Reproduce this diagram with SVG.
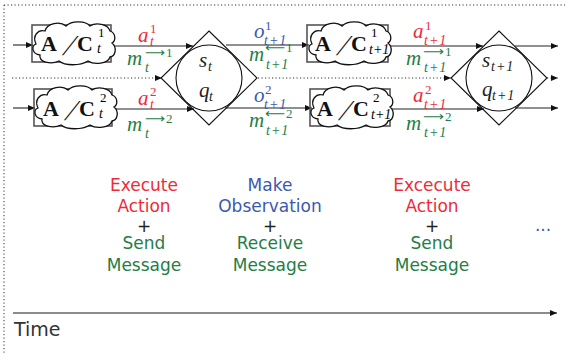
<svg xmlns="http://www.w3.org/2000/svg" width="565" height="354" viewBox="0 0 565 354">
<style>
.ln{stroke:#222;stroke-width:1.1;fill:none}
.dot{stroke:#333;stroke-width:1;stroke-dasharray:1.2,2.3;fill:none}
.rect{fill:none;stroke:#555;stroke-width:1.6}
.cloud{fill:#fff;stroke:#111;stroke-width:1.3}
.sh{fill:none;stroke:#111;stroke-width:1.1}
.mi{font-family:"Liberation Serif",serif;font-style:italic;font-size:21px}
.mr{font-family:"Liberation Serif",serif;font-size:13px}
.ms{font-family:"Liberation Serif",serif;font-style:italic;font-size:14px}
.tp{letter-spacing:1px}
.ar{font-family:"DejaVu Sans",sans-serif;font-size:13px}
.bold{font-family:"Liberation Serif",serif;font-weight:bold;font-size:22px;fill:#111}
.sl{font-family:"Liberation Serif",serif;font-size:29px;fill:#111}
.bt{font-family:"DejaVu Sans",sans-serif;font-size:17px;text-anchor:middle}
.red{fill:#ef2b37}
.blue{fill:#3b59ad}
.green{fill:#1f7d45}
.dark{fill:#222}
</style>
<defs>
<marker id="ah" markerWidth="8" markerHeight="6" refX="7" refY="3" orient="auto" markerUnits="userSpaceOnUse">
<path d="M0,0 L7,3 L0,6 Z" fill="#111"/>
</marker>
<path id="cl" d="M3,20 C-1,12 5,5 12,7 C14,-1 27,-3 33,2 C39,-4 53,-3 57,2 C63,-2 75,0 77,7 C83,9 83,17 79,19 C84,23 83,32 77,33 C75,40 61,41 55,37 C47,42 32,42 26,37 C18,41 5,38 7,31 C-1,30 -2,22 3,20 Z"/>
</defs>

<!-- frame -->
<g id="frame">
<line class="dot" x1="4" y1="5" x2="565" y2="5"/>
<line class="dot" x1="4" y1="5" x2="4" y2="354"/>
</g>

<!-- connectors -->
<g id="connectors">
<line class="ln" x1="13" y1="45" x2="33" y2="45" marker-end="url(#ah)"/>
<line class="ln" x1="13" y1="108" x2="35" y2="108" marker-end="url(#ah)"/>
<line class="ln" x1="113" y1="46" x2="193" y2="46" marker-end="url(#ah)"/>
<line class="ln" x1="114" y1="109" x2="194" y2="109" marker-end="url(#ah)"/>
<line class="ln" x1="226" y1="45" x2="309" y2="45" marker-end="url(#ah)"/>
<line class="ln" x1="225" y1="108" x2="312" y2="108" marker-end="url(#ah)"/>
<line class="ln" x1="390" y1="46" x2="483" y2="46" marker-end="url(#ah)"/>
<line class="ln" x1="392" y1="109" x2="484" y2="109" marker-end="url(#ah)"/>
<line class="ln" x1="515" y1="46" x2="558" y2="46" marker-end="url(#ah)"/>
<line class="ln" x1="515" y1="108" x2="558" y2="108" marker-end="url(#ah)"/>
<line class="dot" x1="12" y1="78" x2="162" y2="78" marker-end="url(#ah)"/>
<line class="dot" x1="258" y1="78" x2="451" y2="78" marker-end="url(#ah)"/>
<line class="dot" x1="547" y1="78" x2="558" y2="78" marker-end="url(#ah)"/>
<line x1="13" y1="313" x2="557" y2="313" stroke="#666" stroke-width="1.5" marker-end="url(#ah)"/>
</g>

<!-- A/C boxes -->
<g id="ac1t">
<rect class="rect" x="32" y="25" width="79" height="37"/>
<use href="#cl" class="cloud" transform="translate(33,24)"/>
<text class="bold" x="41" y="51">A</text>
<text class="sl" transform="translate(62,55) skewX(-24)" x="0" y="0">/</text>
<text class="bold" x="77" y="51">C</text>
<text class="mr" x="98" y="37">1</text>
<text class="ms" x="97" y="53">t</text>
</g>
<g id="ac2t">
<rect class="rect" x="34" y="89" width="78" height="37"/>
<use href="#cl" class="cloud" transform="translate(35,88)"/>
<text class="bold" x="43" y="116">A</text>
<text class="sl" transform="translate(64,120) skewX(-24)" x="0" y="0">/</text>
<text class="bold" x="79" y="116">C</text>
<text class="mr" x="100" y="102">2</text>
<text class="ms" x="99" y="118">t</text>
</g>
<g id="ac1t1">
<rect class="rect" x="307" y="25" width="81" height="37"/>
<use href="#cl" class="cloud" transform="translate(309,24)"/>
<text class="bold" x="315" y="51">A</text>
<text class="sl" transform="translate(336,55) skewX(-24)" x="0" y="0">/</text>
<text class="bold" x="351" y="51">C</text>
<text class="mr" x="371" y="37">1</text>
<text class="ms" x="369" y="54">t+1</text>
</g>
<g id="ac2t1">
<rect class="rect" x="310" y="89" width="80" height="37"/>
<use href="#cl" class="cloud" transform="translate(311,88)"/>
<text class="bold" x="317" y="116">A</text>
<text class="sl" transform="translate(338,120) skewX(-24)" x="0" y="0">/</text>
<text class="bold" x="353" y="116">C</text>
<text class="mr" x="373" y="102">2</text>
<text class="ms" x="371" y="119">t+1</text>
</g>

<!-- state nodes -->
<g id="state_t">
<polygon class="sh" points="209,31 257,78 209,125 161,78"/>
<circle class="sh" cx="209" cy="78" r="33"/>
<text class="mi dark" x="199" y="67">s</text>
<text class="ms dark" x="208" y="71">t</text>
<text class="mi dark" x="199" y="97">q</text>
<text class="ms dark" x="209" y="101">t</text>
</g>
<g id="state_t1">
<polygon class="sh" points="499,31 547,78 499,125 451,78"/>
<circle class="sh" cx="499" cy="78" r="33"/>
<text class="mi dark" x="482" y="67">s</text>
<text class="ms dark tp" x="491" y="71">t+1</text>
<text class="mi dark" x="482" y="96">q</text>
<text class="ms dark tp" x="492" y="100">t+1</text>
</g>

<!-- edge labels -->
<g id="labels">
<text class="mi red" x="138" y="42">a</text>
<text class="mr red" x="150" y="33">1</text>
<text class="ms red" x="150" y="46">t</text>
<text class="mi green" x="127" y="65">m</text>
<text class="ms green" x="145" y="72">t</text>
<text class="ar green" x="145" y="57" textLength="20" lengthAdjust="spacingAndGlyphs">⟶</text>
<text class="mr green" x="166" y="57">1</text>

<text class="mi red" x="138" y="105">a</text>
<text class="mr red" x="150" y="96">2</text>
<text class="ms red" x="150" y="109">t</text>
<text class="mi green" x="127" y="131">m</text>
<text class="ms green" x="145" y="138">t</text>
<text class="ar green" x="145" y="123" textLength="20" lengthAdjust="spacingAndGlyphs">⟶</text>
<text class="mr green" x="166" y="123">2</text>

<text class="mi blue" x="254" y="38">o</text>
<text class="mr blue" x="265" y="30">1</text>
<text class="ms blue tp" x="264" y="45">t+1</text>
<text class="mi green" x="249" y="61">m</text>
<text class="ar green" x="265" y="52" textLength="20" lengthAdjust="spacingAndGlyphs">⟵</text>
<text class="mr green" x="286" y="52">1</text>
<text class="ms green tp" x="266" y="69">t+1</text>

<text class="mi blue" x="254" y="102">o</text>
<text class="mr blue" x="265" y="94">2</text>
<text class="ms blue tp" x="264" y="109">t+1</text>
<text class="mi green" x="249" y="127">m</text>
<text class="ar green" x="265" y="118" textLength="20" lengthAdjust="spacingAndGlyphs">⟵</text>
<text class="mr green" x="286" y="118">2</text>
<text class="ms green tp" x="266" y="135">t+1</text>

<text class="mi red" x="413" y="38">a</text>
<text class="mr red" x="425" y="30">1</text>
<text class="ms red tp" x="424" y="45">t+1</text>
<text class="mi green" x="406" y="65">m</text>
<text class="ar green" x="423" y="56" textLength="21" lengthAdjust="spacingAndGlyphs">⟶</text>
<text class="mr green" x="445" y="56">1</text>
<text class="ms green tp" x="424" y="72">t+1</text>

<text class="mi red" x="413" y="102">a</text>
<text class="mr red" x="425" y="94">2</text>
<text class="ms red tp" x="424" y="109">t+1</text>
<text class="mi green" x="406" y="130">m</text>
<text class="ar green" x="423" y="121" textLength="21" lengthAdjust="spacingAndGlyphs">⟶</text>
<text class="mr green" x="445" y="121">2</text>
<text class="ms green tp" x="424" y="137">t+1</text>
</g>

<!-- phase captions -->
<g id="captions">
<text class="bt red" x="144" y="191">Execute</text>
<text class="bt red" x="144" y="212">Action</text>
<text class="bt dark" x="144" y="232">+</text>
<text class="bt green" x="144" y="249">Send</text>
<text class="bt green" x="144" y="271">Message</text>

<text class="bt blue" x="270" y="191">Make</text>
<text class="bt blue" x="270" y="212">Observation</text>
<text class="bt dark" x="270" y="232">+</text>
<text class="bt green" x="270" y="249">Receive</text>
<text class="bt green" x="270" y="271">Message</text>

<text class="bt red" x="432" y="191">Excecute</text>
<text class="bt red" x="432" y="212">Action</text>
<text class="bt dark" x="432" y="232">+</text>
<text class="bt green" x="432" y="249">Send</text>
<text class="bt green" x="432" y="271">Message</text>

<text class="bt blue" x="543" y="231">...</text>
<text x="14" y="336" font-family="DejaVu Sans, sans-serif" font-size="19" fill="#333">Time</text>
</g>
</svg>
